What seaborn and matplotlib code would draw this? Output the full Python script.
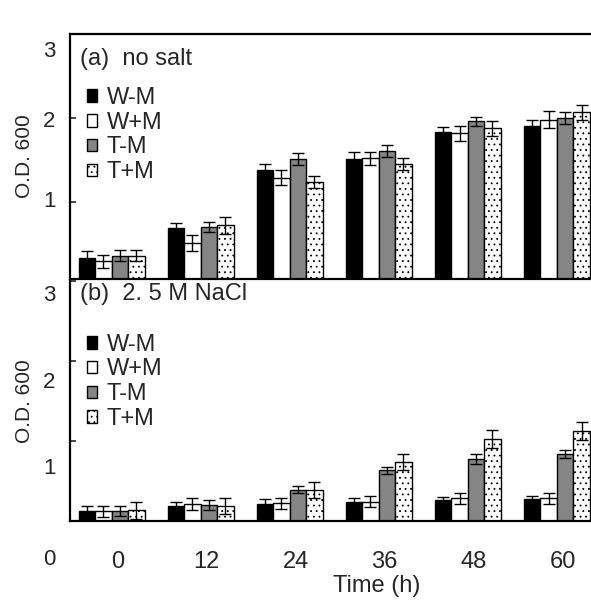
import pandas as pd
import matplotlib
matplotlib.use('Agg')
import matplotlib.pyplot as plt
from matplotlib.transforms import ScaledTranslation
import seaborn as sns

sns.set_style('white')
plt.rcParams['font.family'] = ['Liberation Sans', 'DejaVu Sans']
plt.rcParams['hatch.linewidth'] = 0.6

times = ['0', '12', '24', '36', '48', '60']
strains = ['W-M', 'W+M', 'T-M', 'T+M']

# panel (a) no salt
a_wm = [0.33, 0.69, 1.38, 1.51, 1.83, 1.91]
a_wpm = [0.29, 0.51, 1.29, 1.52, 1.82, 1.98]
a_tm = [0.36, 0.70, 1.51, 1.61, 1.96, 2.00]
a_tpm = [0.36, 0.72, 1.24, 1.45, 1.88, 2.07]
a_err_wm = [0.08, 0.06, 0.07, 0.08, 0.06, 0.07]
a_err_wpm = [0.08, 0.10, 0.09, 0.08, 0.09, 0.10]
a_err_tm = [0.06, 0.06, 0.07, 0.07, 0.05, 0.07]
a_err_tpm = [0.06, 0.10, 0.07, 0.07, 0.09, 0.09]

# panel (b) 2.5 M NaCl
b_wm = [0.12, 0.18, 0.21, 0.24, 0.26, 0.27]
b_wpm = [0.12, 0.21, 0.22, 0.24, 0.28, 0.28]
b_tm = [0.12, 0.20, 0.39, 0.63, 0.77, 0.83]
b_tpm = [0.13, 0.18, 0.39, 0.73, 1.02, 1.12]
b_err_wm = [0.06, 0.06, 0.06, 0.05, 0.04, 0.04]
b_err_wpm = [0.07, 0.07, 0.07, 0.07, 0.07, 0.07]
b_err_tm = [0.06, 0.06, 0.04, 0.04, 0.06, 0.05]
b_err_tpm = [0.11, 0.10, 0.10, 0.10, 0.11, 0.11]

fills = {'W-M': 'black', 'W+M': 'white', 'T-M': '#858585', 'T+M': 'white'}
hatches = {'W-M': '', 'W+M': '', 'T-M': '', 'T+M': '...'}


def make_df(vals, errs):
    rows = []
    for s, v, e in zip(strains, vals, errs):
        for t, vi, ei in zip(times, v, e):
            rows.append({'time': t, 'strain': s, 'od': vi, 'err': ei})
    return pd.DataFrame(rows)


df_a = make_df([a_wm, a_wpm, a_tm, a_tpm], [a_err_wm, a_err_wpm, a_err_tm, a_err_tpm])
df_b = make_df([b_wm, b_wpm, b_tm, b_tpm], [b_err_wm, b_err_wpm, b_err_tm, b_err_tpm])

fig = plt.figure(figsize=(5.91, 6.0), dpi=100)
ax1 = fig.add_axes([0.118, 0.535, 0.895, 0.408])
ax2 = fig.add_axes([0.118, 0.132, 0.895, 0.400])


def draw_panel(ax, df, title, ylim, tick_offsets, leg_y):
    sns.barplot(data=df, x='time', y='od', hue='strain', order=times,
                hue_order=strains, palette=fills, width=0.74,
                edgecolor='black', linewidth=1.0, errorbar=None, ax=ax)
    bar_conts = list(ax.containers)
    for s, cont in zip(strains, bar_conts):
        errs = df[df['strain'] == s].set_index('time').loc[times, 'err'].values
        xs = [b.get_x() + b.get_width() / 2 for b in cont.patches]
        ys = [b.get_height() for b in cont.patches]
        for b in cont.patches:
            b.set_hatch(hatches[s])
        ax.errorbar(xs, ys, yerr=errs, fmt='none', ecolor='black',
                    elinewidth=1.0, capsize=4, capthick=1.0)
    handles = [c.patches[0] for c in bar_conts]
    ax.legend(handles, strains, loc='upper left', bbox_to_anchor=(0.032, leg_y),
              frameon=False, fontsize=17, borderpad=0, borderaxespad=0,
              handlelength=0.45, handleheight=0.45, handletextpad=0.4,
              labelspacing=0.12)
    ax.text(0.02, title[1], title[0], transform=ax.transAxes, fontsize=17,
            ha='left', va='center')
    ax.set_xlim(-0.47, 5.47)
    ax.set_ylim(*ylim)
    ax.set_yticks([1, 2, 3] if ylim[0] > 0 else [0, 1, 2, 3])
    ax.set_yticklabels([])
    ax.tick_params(axis='y', direction='in', length=4, width=1.2, left=True)
    for v, dy in tick_offsets:
        ax.annotate(str(v), xy=(0, v), xycoords=ax.get_yaxis_transform(),
                    xytext=(-14, -dy), textcoords='offset pixels',
                    ha='right', va='center', fontsize=16)
    ax.set_ylabel('O.D. 600', fontsize=15, labelpad=22)
    for sp in ax.spines.values():
        sp.set_linewidth(1.6)
        sp.set_color('black')


draw_panel(ax1, df_a, ('(a)  no salt', 0.9), (0.08, 3.0),
           [(1, 0), (2, 3), (3, 17)], 0.785)
draw_panel(ax2, df_b, ('(b)  2. 5 M NaCl', 0.945), (0.0, 2.95),
           [(0, 39), (1, 28), (2, 22), (3, 15)], 0.78)

ax1.set_xlabel('')
ax1.set_xticklabels([])
ax1.tick_params(axis='x', length=0)
ax1.spines['right'].set_visible(False)

ax2.spines['top'].set_visible(False)
ax2.spines['right'].set_visible(False)
ax2.tick_params(axis='x', length=0, pad=22, labelsize=17)
ax2.set_xlabel('Time (h)', fontsize=17, labelpad=0)
ax2.xaxis.set_label_coords(0.58, -0.225)
shift = ScaledTranslation(0.06, 0, fig.dpi_scale_trans)
for lbl in ax2.get_xticklabels():
    lbl.set_transform(lbl.get_transform() + shift)

fig.savefig('out.png', dpi=100)
